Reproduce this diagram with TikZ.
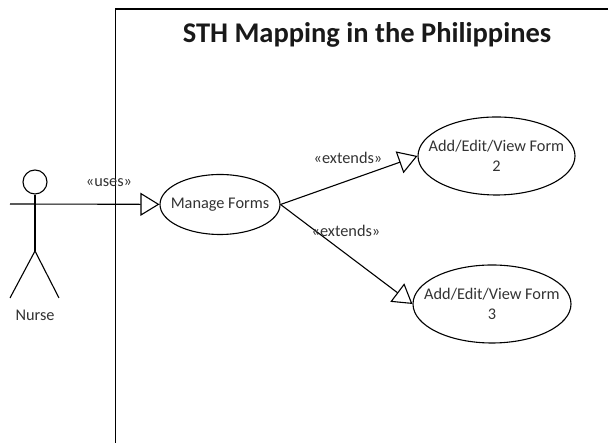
\documentclass[tikz,border=0pt]{standalone}
\usepackage{fontspec}
\setmainfont{Carlito}
\usetikzlibrary{
	arrows.meta,
	shapes,
	positioning
	}
\tikzstyle{usecase}=[draw,ellipse,inner sep=0pt]
\tikzstyle{stereo}=[inner sep=0pt,text=black!80,align=center,font={\fontsize{16.3pt}{20}\selectfont}]
\tikzstyle{rel}=[-{Triangle[open,length=19pt,width=23pt]}]
\begin{document}
\begin{tikzpicture}[x=1pt,y=1pt,line width=1.1pt]
            \useasboundingbox (0,0) rectangle (608,443);
            % system boundary
            \coordinate (b1) at (115.5,0);
            \coordinate (b2) at (115.5,434);
            \coordinate (b3) at (608,434);
            \draw (b1) -- (b2) -- (b3);
            \node[inner sep=0pt, text=black!90, font={\fontsize{28.5pt}{34}\selectfont\bfseries}] (title) at (367,408) {STH Mapping in the Philippines};
            %
            % actor
            \node[draw,circle,inner sep=0pt,minimum size=24pt] (head) at (35,261) {};
            \coordinate (hip) at (35,192);
            \coordinate (arm) at (10,239);
            \coordinate (footl) at (10,145);
            \coordinate (footr) at (59,145);
            \draw (head) -- (hip);
            \draw (footl) -- (hip) -- (footr);
            \node[stereo] (nurse) at (35,128) {Nurse};
            %
            % use cases
            \node[usecase, minimum width=120pt, minimum height=60pt] (manage) at (220,238.5) {};
            \node[usecase, minimum width=157pt, minimum height=78pt] (form2) at (496.5,287) {};
            \node[usecase, minimum width=158pt, minimum height=78pt] (form3) at (492,139) {};
            \node[stereo] (manage-txt) at (manage) {Manage Forms};
            \node[stereo] (form2-txt) at (form2) {Add/Edit/View Form\\2};
            \node[stereo] (form3-txt) at (form3) {Add/Edit/View Form\\3};
            %
            \draw[rel] (arm) -- (manage);
            \draw[rel] (manage.east) -- (form2.west);
            \draw[rel] (manage.east) -- (form3.west);
            %
            \node[stereo] (uses) at (109,260) {«uses»};
            \node[stereo] (ext2) at (348,285) {«extends»};
            \node[stereo] (ext3) at (346,212) {«extends»};
        \end{tikzpicture}
\end{document}
